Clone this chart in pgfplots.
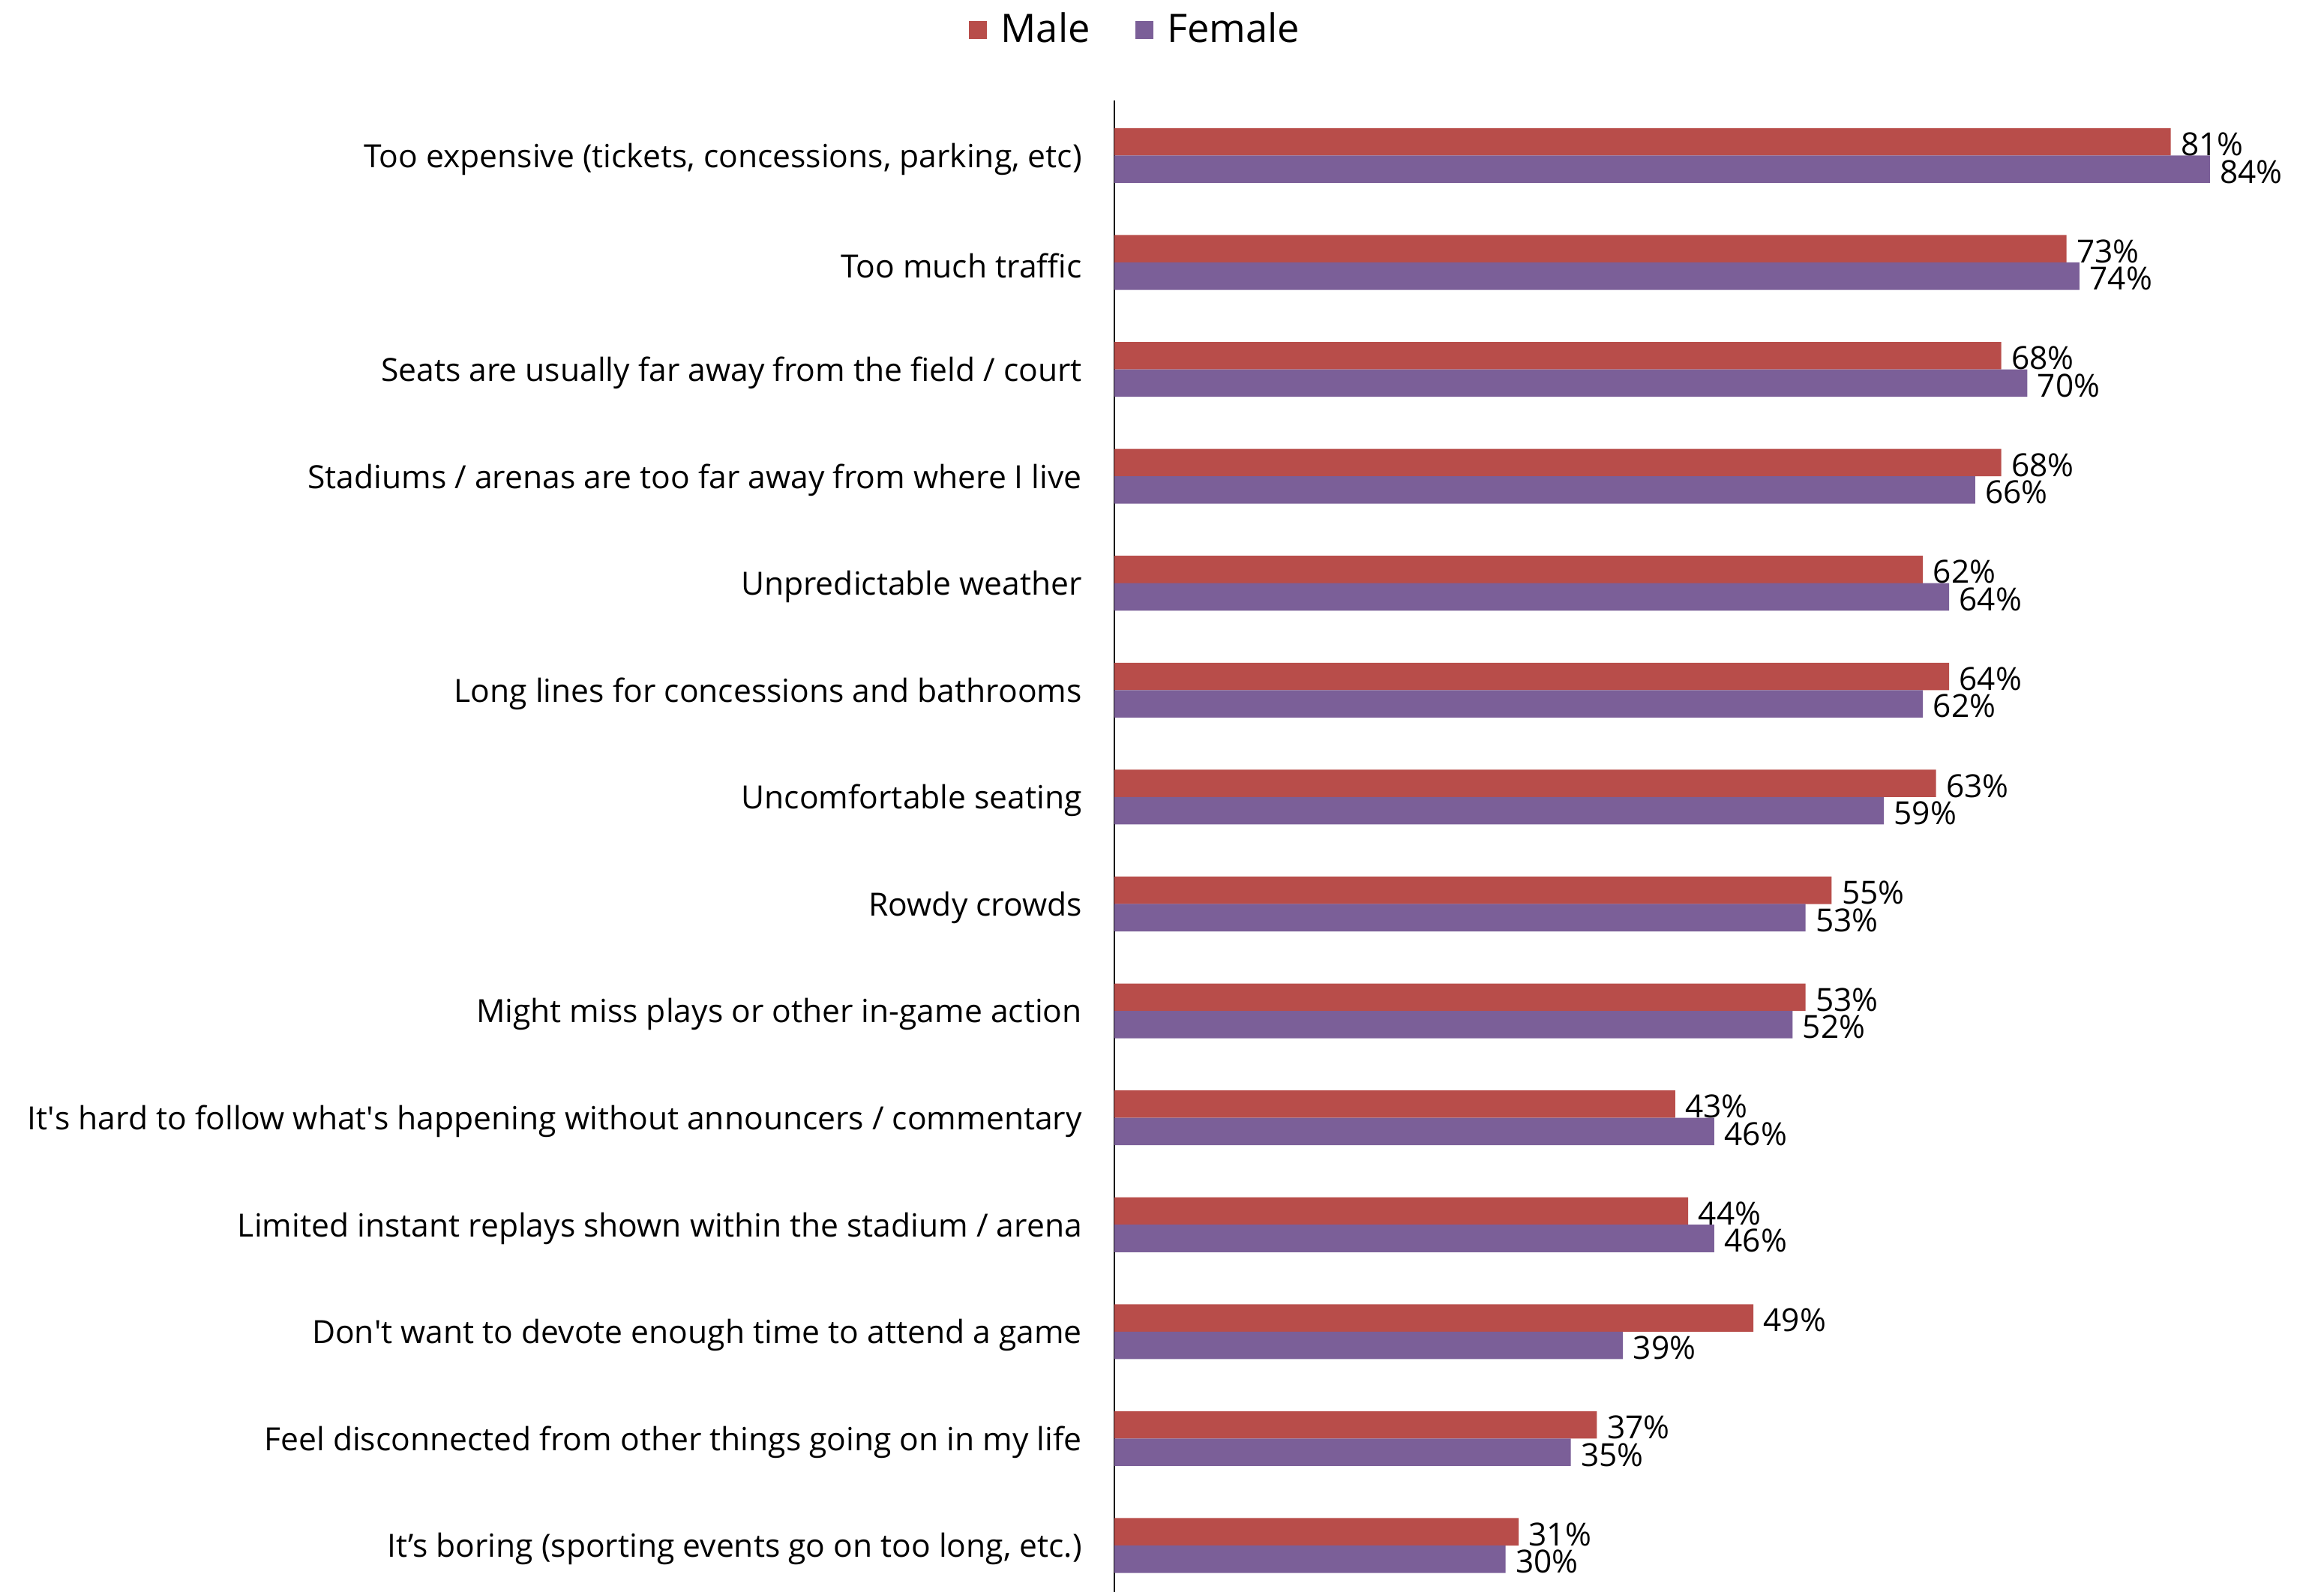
\documentclass[border=0pt]{standalone}
\usepackage{fontspec}
\setmainfont{Open Sans}
\usepackage{pgfplots}
\pgfplotsset{compat=1.18}
\definecolor{male}{HTML}{B84D4A}
\definecolor{female}{HTML}{7B5F98}
\begin{document}
\begin{tikzpicture}
\useasboundingbox (0,0) rectangle (774.75pt,530.75pt);
\begin{axis}[
 at={(371.5pt,0pt)}, anchor=south west,
 scale only axis, width=382.6pt, height=497.25pt,
 xmin=0, xmax=88, ymin=-0.515, ymax=13.435, y dir=reverse,
 axis x line=none, axis y line*=left,
 axis line style={line width=0.5pt},
 ytick={0,...,13},
 yticklabels={
 {Too expensive (tickets, concessions, parking, etc)},
 {Too much traffic},
 {Seats are usually far away from the field / court},
 {Stadiums / arenas are too far away from where I live},
 {Unpredictable weather},
 {Long lines for concessions and bathrooms},
 {Uncomfortable seating},
 {Rowdy crowds},
 {Might miss plays or other in-game action},
 {It\textquotesingle s hard to follow what\textquotesingle s happening without announcers / commentary},
 {Limited instant replays shown within the stadium / arena},
 {Don\textquotesingle t want to devote enough time to attend a game},
 {Feel disconnected from other things going on in my life},
 {It’s boring (sporting events go on too long, etc.)}},
 major tick length=0pt,
 ytick style={draw=none},
 yticklabel style={font=\fontsize{10.65}{12}\selectfont, inner xsep=0pt, xshift=-10.6pt, yshift=-1.2pt},
 xbar, bar width=0.2567,
 /pgf/number format/assume math mode=true,
 nodes near coords={\pgfmathprintnumber{\pgfplotspointmeta}\%},
 nodes near coords style={font=\fontsize{10.6}{12}\selectfont, anchor=west, inner xsep=1pt, inner ysep=0pt, xshift=2.2pt, yshift=-0.8pt},
 clip=false,
 legend style={draw=none, fill=none, legend columns=2, font=\fontsize{13.1}{15.6}\selectfont,
   at={(rel axis cs:0.02,1.0475)}, anchor=center,
   /tikz/every even column/.append style={column sep=13pt}},
 legend image code/.code={\fill[#1,draw=none] (0pt,-3pt) rectangle (6pt,3pt); \path (8.6pt,0pt);},
]
\addplot[fill=male, draw=none, bar shift=0pt] coordinates {
(81,-0.128) (73,0.872) (68,1.872) (68,2.872) (62,3.872) (64,4.872) (63,5.872)
(55,6.872) (53,7.872) (43,8.872) (44,9.872) (49,10.872) (37,11.872) (31,12.872)};
\addplot[fill=female, draw=none, bar shift=0pt] coordinates {
(84,0.128) (74,1.128) (70,2.128) (66,3.128) (64,4.128) (62,5.128) (59,6.128)
(53,7.128) (52,8.128) (46,9.128) (46,10.128) (39,11.128) (35,12.128) (30,13.128)};
\legend{Male,Female}
\end{axis}
\end{tikzpicture}
\end{document}
